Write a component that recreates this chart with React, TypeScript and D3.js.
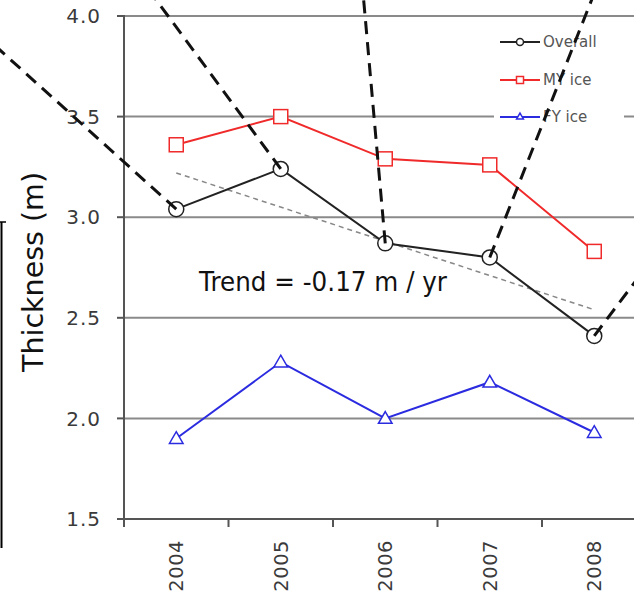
import React from "react";
import * as d3 from "d3";

const years = ["2004", "2005", "2006", "2007", "2008"];
const overall = [3.04, 3.24, 2.87, 2.8, 2.41];
const myIce = [3.36, 3.5, 3.29, 3.26, 2.83];
const fyIce = [1.9, 2.28, 2.0, 2.18, 1.93];
const trendStart = 3.22;
const trendSlope = -0.17;
const yTicks = [1.5, 2.0, 2.5, 3.0, 3.5, 4.0];
const gridTicks = [2.0, 2.5, 3.0, 3.5, 4.0];
// annotation dashed leaders: from data point (index) to an off-chart target (fractional index, value)
const leaders = [
  { from: 0, toIdx: -1.75, toVal: 3.86 },
  { from: 1, toIdx: -0.22, toVal: 4.1 },
  { from: 2, toIdx: 1.79, toVal: 4.1 },
  { from: 3, toIdx: 3.99, toVal: 4.1 },
  { from: 4, toIdx: 4.45, toVal: 2.72 },
];
const legendItems = ["Overall", "MY ice", "FY ice"];

const W = 634;
const H = 595;
const FONT = "'DejaVu Sans', Verdana, sans-serif";

export default function App() {
  const left = 124;
  const bw = 104.5;
  const x = d3.scaleBand<string>().domain(years).range([left, left + bw * years.length]).padding(0);
  const cx = (i: number) => (x(years[i]) as number) + bw / 2;
  const xl = d3.scaleLinear().domain([0, 4]).range([cx(0), cx(4)]);
  const y = d3.scaleLinear().domain([1.5, 4.0]).range([519, 16]);

  const line = d3
    .line<number>()
    .x((_, i) => cx(i))
    .y((d) => y(d));

  const colors = { overall: "#222", my: "#f02a2a", fy: "#2b2be0" };
  const trendVals = [trendStart, trendStart + trendSlope * 4];

  const tri = d3.symbol().type(d3.symbolTriangle).size(80)();

  return (
    <svg width={W} height={H} style={{ position: "absolute", left: 0, top: 0, background: "#fff" }}>
      {/* left frame remnant */}
      <line x1={1.5} x2={1.5} y1={222} y2={548} stroke="#000" strokeWidth={2} />
      <line x1={0} x2={6} y1={222} y2={222} stroke="#000" strokeWidth={1.5} />
      {/* grid */}
      {gridTicks.map((t) => (
        <line key={t} x1={left} x2={W} y1={y(t)} y2={y(t)} stroke="#8a8a8a" strokeWidth={2} />
      ))}
      {/* axes */}
      <line x1={left} x2={left} y1={y(4.0) - 1} y2={y(1.5) + 8} stroke="#555" strokeWidth={2} />
      <line x1={left} x2={W} y1={y(1.5)} y2={y(1.5)} stroke="#555" strokeWidth={2} />
      {yTicks.map((t) => (
        <g key={t}>
          <line x1={left - 7} x2={left} y1={y(t)} y2={y(t)} stroke="#555" strokeWidth={2} />
          <text x={101} y={y(t)} dy="0.36em" textAnchor="end" fontFamily={FONT} fontSize={20} letterSpacing={1} fill="#3a3a3a">
            {t.toFixed(1)}
          </text>
        </g>
      ))}
      {years.slice(1).map((yr) => (
        <line key={yr} x1={x(yr)} x2={x(yr)} y1={y(1.5)} y2={y(1.5) + 8} stroke="#555" strokeWidth={2} />
      ))}
      {years.map((yr, i) => (
        <text
          key={yr}
          transform={`translate(${cx(i)},${540}) rotate(-90)`}
          dy="0.36em"
          textAnchor="end"
          fontFamily={FONT}
          fontSize={19.5}
          letterSpacing={0.5}
          fill="#3a3a3a"
        >
          {yr}
        </text>
      ))}
      <text
        transform={`translate(33,${272}) rotate(-90)`}
        dy="0.36em"
        textAnchor="middle"
        fontFamily={FONT}
        fontSize={28}
        textLength={200}
        lengthAdjust="spacingAndGlyphs"
        fill="#111"
      >
        Thickness (m)
      </text>

      {/* trend */}
      <line
        x1={xl(0)}
        x2={xl(4)}
        y1={y(trendVals[0])}
        y2={y(trendVals[1])}
        stroke="#888"
        strokeWidth={1.5}
        strokeDasharray="5,4"
      />
      <text x={199} y={291} fontFamily={FONT} fontSize={27} textLength={248} lengthAdjust="spacingAndGlyphs" fill="#111">
        Trend = -0.17 m / yr
      </text>

      {/* series */}
      <path d={line(myIce) || ""} fill="none" stroke={colors.my} strokeWidth={2} />
      <path d={line(overall) || ""} fill="none" stroke={colors.overall} strokeWidth={2} />
      <path d={line(fyIce) || ""} fill="none" stroke={colors.fy} strokeWidth={2} />
      {myIce.map((v, i) => (
        <rect key={i} x={cx(i) - 7} y={y(v) - 7} width={14} height={14} fill="#fff" stroke={colors.my} strokeWidth={1.5} />
      ))}
      {overall.map((v, i) => (
        <circle key={i} cx={cx(i)} cy={y(v)} r={7.5} fill="#fff" stroke={colors.overall} strokeWidth={1.5} />
      ))}
      {fyIce.map((v, i) => (
        <path key={i} d={tri || ""} transform={`translate(${cx(i)},${y(v) + 1})`} fill="#fff" stroke={colors.fy} strokeWidth={1.5} />
      ))}

      {/* legend */}
      <rect x={494} y={24} width={130} height={106} fill="#fff" />
      {legendItems.map((name, i) => {
        const ly = [42, 80, 117][i];
        const c = [colors.overall, colors.my, colors.fy][i];
        return (
          <g key={name}>
            <line x1={500} x2={540} y1={ly} y2={ly} stroke={c} strokeWidth={2} />
            {i === 0 && <circle cx={520} cy={ly} r={3.5} fill="#fff" stroke={c} strokeWidth={1.5} />}
            {i === 1 && <rect x={516.5} y={ly - 3.5} width={7} height={7} fill="#fff" stroke={c} strokeWidth={1.5} />}
            {i === 2 && (
              <path d={d3.symbol().type(d3.symbolTriangle).size(20)() || ""} transform={`translate(520,${ly})`} fill="#fff" stroke={c} strokeWidth={1.5} />
            )}
            <text x={543} y={ly} dy="0.36em" fontFamily={FONT} fontSize={15} fill="#555">
              {name}
            </text>
          </g>
        );
      })}

      {/* dashed leaders */}
      {leaders.map((l, i) => (
        <line
          key={i}
          x1={cx(l.from)}
          y1={y(overall[l.from])}
          x2={xl(l.toIdx)}
          y2={y(l.toVal)}
          stroke="#111"
          strokeWidth={3}
          strokeDasharray="13,8"
        />
      ))}
    </svg>
  );
}
